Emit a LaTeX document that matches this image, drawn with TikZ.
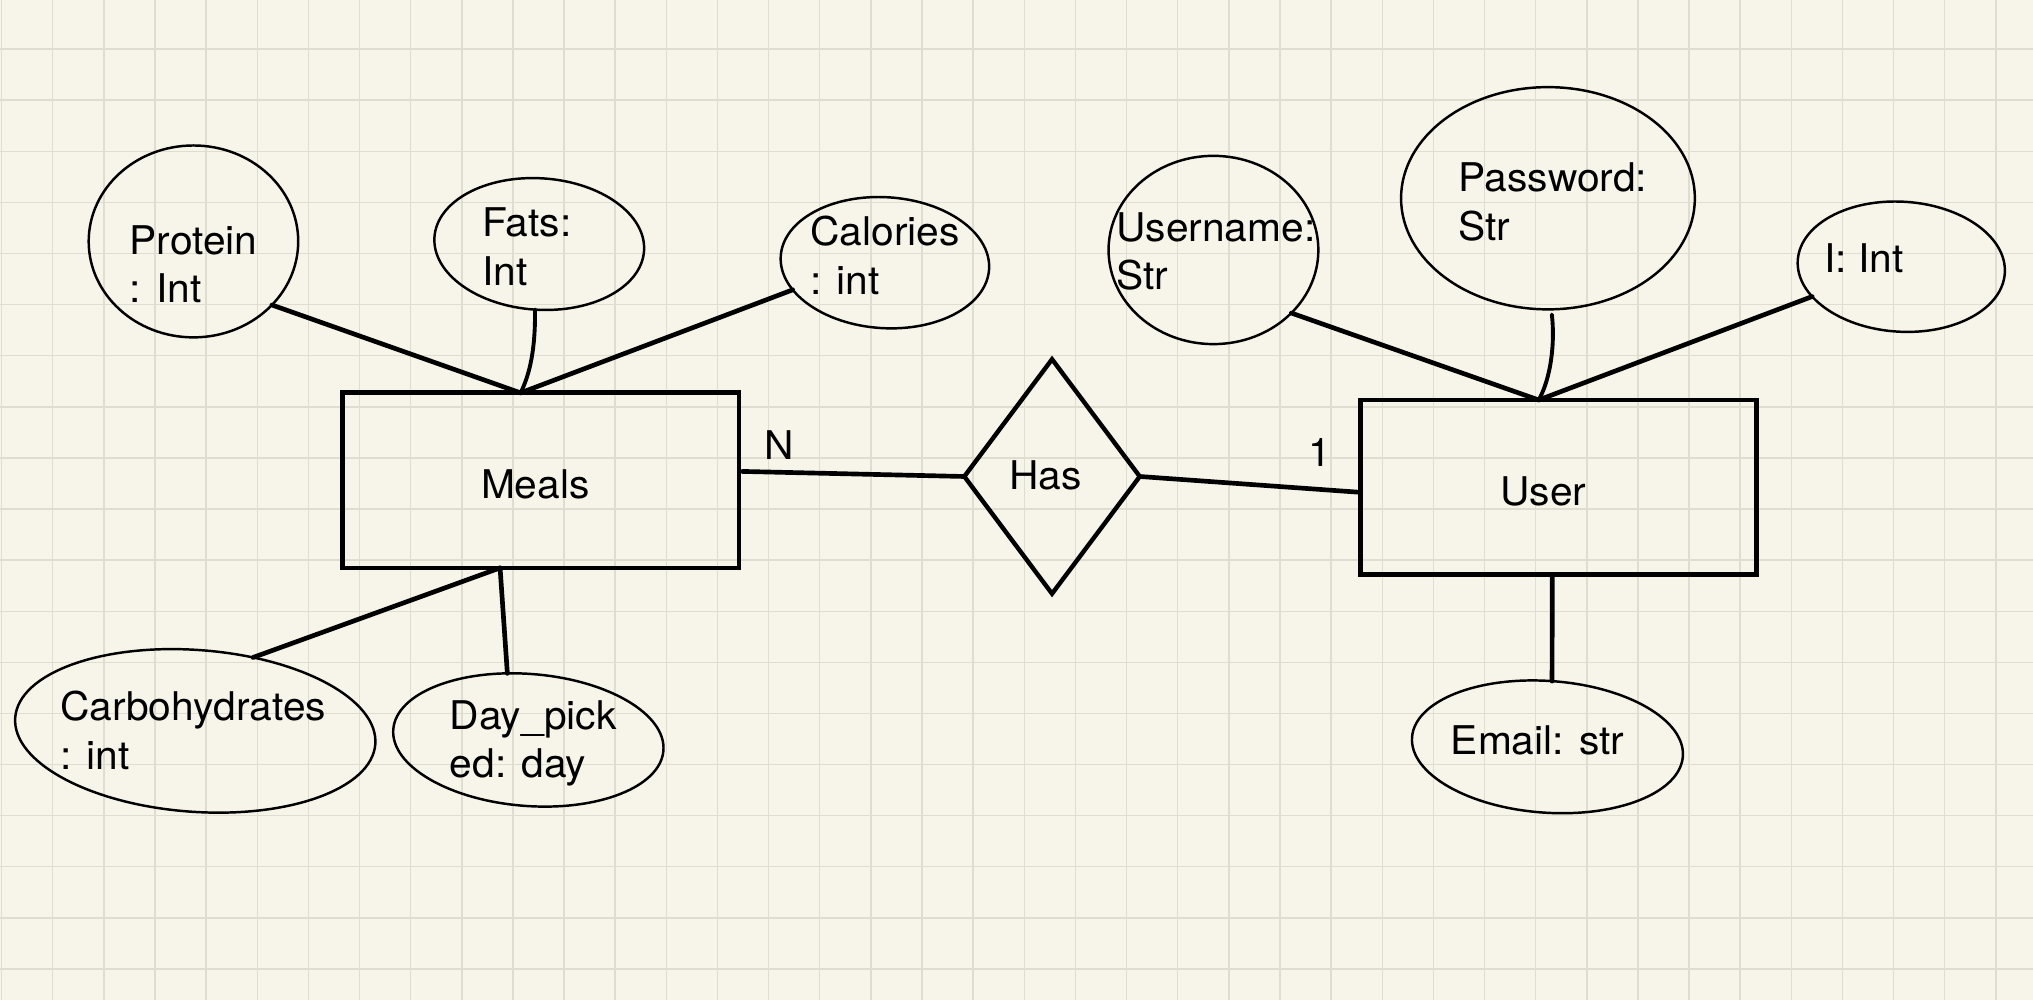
\documentclass[tikz,border=0pt]{standalone}
\usepackage{fontspec}
\setmainfont{TeX Gyre Heros}[FakeStretch=1.03]
\usetikzlibrary{shapes.geometric}
\definecolor{paper}{RGB}{247,245,234}
\definecolor{gridc}{RGB}{222,221,208}
\tikzset{
  gridline/.style={draw=gridc, line width=1.1pt},
  entity/.style={draw=black, line width=3.7pt, rectangle, inner sep=0pt, outer sep=0pt},
  attr/.style={draw=black, line width=1.9pt, ellipse, inner sep=0pt, outer sep=0pt},
  rel/.style={draw=black, line width=3.4pt, diamond, inner sep=0pt, outer sep=0pt},
  txt/.style={inner sep=0pt, outer sep=0pt, anchor=base west, font=\fontsize{30.5}{37}\selectfont},
  link/.style={draw=black, line width=3.6pt, line cap=round},
  curvelink/.style={draw=black, line width=3pt, line cap=round},
}
\begin{document}
\begin{tikzpicture}[x=1pt,y=-1pt]
\useasboundingbox (0,0) rectangle (1568,771);
\fill[paper] (0,0) rectangle (1568,771);
\foreach \k in {0,...,39} \draw[gridline] ({1.2+39.44*\k},0) -- ({1.2+39.44*\k},771);
\foreach \k in {0,...,18} \draw[gridline] (0,{37.8+39.42*\k}) -- (1568,{37.8+39.42*\k});

% entities and relationship
\node[entity, minimum width=306pt, minimum height=135pt] (meals) at (417,370.5) {};
\node[entity, minimum width=305.5pt, minimum height=134.5pt] (user) at (1202.25,375.75) {};
\node[rel, minimum width=135.3pt, minimum height=180.8pt] (has) at (811.4,367.5) {};

% attributes
\node[attr, minimum width=161.6pt, minimum height=148pt] (protein) at (149.2,186.2) {};
\node[attr, minimum width=162pt, minimum height=101.4pt, rotate=-3.7] (fats) at (415.9,188.2) {};
\node[attr, minimum width=161pt, minimum height=101pt, rotate=-3.6] (calories) at (682.5,202.6) {};
\node[attr, minimum width=278.5pt, minimum height=124.8pt, rotate=-4.2] (carbo) at (150.6,563.7) {};
\node[attr, minimum width=209pt, minimum height=101.8pt, rotate=-4.5] (day) at (407.5,570.7) {};
\node[attr, minimum width=161.8pt, minimum height=145.2pt] (username) at (935.9,192.8) {};
\node[attr, minimum width=226.6pt, minimum height=171.4pt] (password) at (1193.9,152.9) {};
\node[attr, minimum width=160pt, minimum height=100.3pt, rotate=-3.5] (iint) at (1466.4,205.7) {};
\node[attr, minimum width=209.4pt, minimum height=101.6pt, rotate=-4] (email) at (1193.5,576) {};

% texts
\node[txt] (tProtein) at (100,196.1) {Protein};
\node[txt] (tProteinT) at (100,233.4) {: Int};
\node[txt] (tFats) at (372,182.3) {Fats:};
\node[txt] (tFatsT) at (372,219.9) {Int};
\node[txt] (tCal) at (625,189.7) {Calories};
\node[txt] (tCalT) at (625,227) {: int};
\node[txt] (tMeals) at (371,384.8) {Meals};
\node[txt] (tCarbo) at (46.7,555.8) {Carbohydrates};
\node[txt] (tCarboT) at (46.7,593.3) {: int};
\node[txt] (tDay) at (347,563) {Day\_pick};
\node[txt] (tDayT) at (347,599.7) {ed: day};
\node[txt] (tHas) at (778.5,377.7) {Has};
\node[txt] (tN) at (589.5,354.1) {N};
\node[txt] (tOne) at (1009,359.8) {1};
\node[txt] (tUser) at (1157.3,389.7) {User};
\node[txt] (tUsername) at (861,186.1) {Username:};
\node[txt] (tUsernameT) at (861,223.2) {Str};
\node[txt] (tPass) at (1125,147.9) {Password:};
\node[txt] (tPassT) at (1125,185.5) {Str};
\node[txt] (tI) at (1407,210.4) {I: Int};
\node[txt] (tEmail) at (1119,582.3) {Email: str};

% connectors
\draw[link] (protein.-39) -- ([xshift=-15.5pt]meals.north);
\draw[curvelink] (fats.-90) .. controls (413,268) and (409,288) .. ([xshift=-15.5pt]meals.north);
\draw[link] (calories.-160) -- ([xshift=-15.5pt]meals.north);
\draw[link] ([xshift=-31.3pt]meals.south) -- (carbo.56.5);
\draw[link] ([xshift=-31.3pt]meals.south) -- (day.112.7);
\draw[link] ([xshift=2.6pt,yshift=6.9pt]meals.east) -- (has.west);
\draw[link] (has.east) -- ([yshift=-4pt]user.west);
\draw[link] (username.-39) -- ([xshift=-15.5pt]user.north);
\draw[curvelink] ([yshift=-4pt]password.-88) .. controls (1199.5,265) and (1196,292) .. ([xshift=-15.5pt]user.north);
\draw[link] (iint.-158) -- ([xshift=-15.5pt]user.north);
\draw[link] ([xshift=-5pt]user.south) -- (email.90);
\end{tikzpicture}
\end{document}
